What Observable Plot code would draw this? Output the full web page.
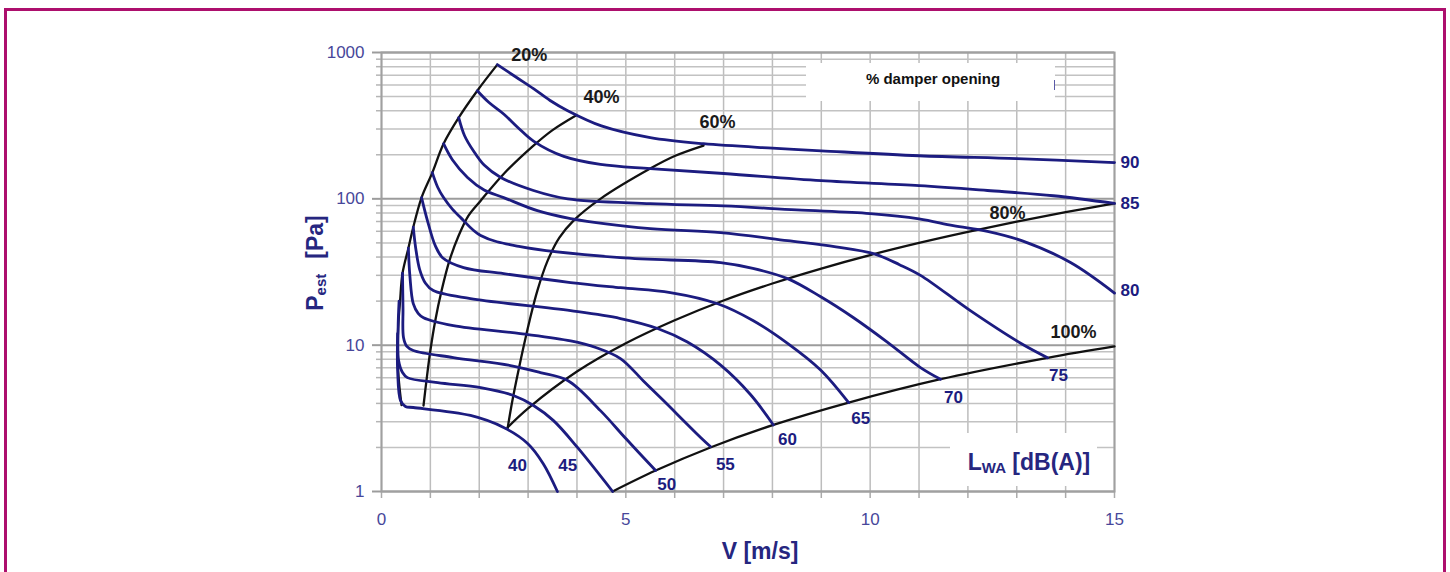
<!DOCTYPE html>
<html><head><meta charset="utf-8">
<script src="https://cdn.jsdelivr.net/npm/d3@7"></script>
<script src="https://cdn.jsdelivr.net/npm/@observablehq/plot@0.6"></script>
<style>
html,body{margin:0;padding:0;background:#fff;}
#wrap{position:relative;width:1450px;height:572px;overflow:hidden;font-family:"Liberation Sans",Arial,sans-serif;}
#chart{position:absolute;left:0;top:0;}
#border{position:absolute;left:4px;top:8px;width:1442px;height:700px;border:3px solid #ad0f6d;box-sizing:border-box;pointer-events:none;}
.ov{position:absolute;white-space:nowrap;}
#damperBox{left:806px;top:63px;width:249px;height:38px;background:#fff;}
#damperTxt{left:806px;top:70px;width:254px;text-align:center;font-weight:bold;font-size:15px;color:#111;line-height:18px;}
#damperTick{left:1054px;top:80px;width:1px;height:10px;background:#5a5aa8;}
#lwaBox{left:950px;top:433px;width:147px;height:53px;background:#fff;}
#lwaTxt{left:1029px;top:462px;transform:translate(-50%,-50%);font-weight:bold;font-size:23px;color:#26267f;}
#ytitle{left:315px;top:263px;transform:translate(-50%,-50%) rotate(-90deg);font-weight:bold;font-size:23px;color:#26267f;}
#xtitle{left:760px;top:551px;transform:translate(-50%,-50%);font-weight:bold;font-size:23px;color:#26267f;}
.sub{font-size:15px;vertical-align:-3px;}
</style>
</head><body>
<div id="wrap">
  <div id="chart"></div>
  <div class="ov" id="damperBox"></div>
  <div class="ov" id="damperTxt">% damper opening</div>
  <div class="ov" id="damperTick"></div>
  <div class="ov" id="lwaBox"></div>
  <div class="ov" id="lwaTxt">L<span class="sub">WA</span> [dB(A)]</div>
  <div class="ov" id="ytitle">P<span class="sub">est</span><span style="margin-left:15px">[Pa]</span></div>
  <div class="ov" id="xtitle">V [m/s]</div>
  <div id="border"></div>
</div>
<script>
// ---- tick values ----
const xTicks = [0, 5, 10, 15];
const xGrid = [0,1,2,3,4,5,6,7,8,9,10,11,12,13,14,15];
const yTicks = [1, 10, 100, 1000];
const yMinor = [2,3,4,5,6,7,8,9,20,30,40,50,60,70,80,90,200,300,400,500,600,700,800,900];

// ---- sound power level curves L_WA [dB(A)] : [V m/s, P Pa] ----
const blueLevels = [40, 45, 50, 55, 60, 65, 70, 75, 80, 85, 90];
const L40 = [[0.33,12],[0.33,6.7],[0.39,4.18],[0.49,3.81],[0.65,3.75],[1.82,3.31],[2.50,2.74],[2.99,2.13],[3.31,1.55],[3.60,1.0]];
const L45 = [[0.36,20],[0.34,13],[0.35,7.85],[0.43,6.5],[0.53,6.0],[1.15,5.55],[2.03,5.13],[2.70,4.53],[3.11,3.87],[3.52,3.05],[4.01,2.0],[4.73,1.0]];
const L50 = [[0.43,31],[0.44,18],[0.45,11.3],[0.52,9.8],[0.65,9.19],[1.47,8.23],[2.64,7.26],[3.25,6.5],[3.81,5.73],[4.48,3.57],[5.0,2.3],[5.61,1.39]];
const L55 = [[0.55,46],[0.58,30],[0.65,19.2],[0.75,16.5],[0.86,15.4],[1.47,13.6],[2.84,12.0],[3.87,10.7],[4.4,9.6],[4.89,8.1],[5.36,5.7],[5.77,4.18],[6.53,2.34],[6.73,2.03]];
const L60 = [[0.65,64],[0.70,46],[0.78,33],[0.9,26.5],[1.06,23.6],[1.82,20.8],[3.87,17.2],[4.89,15.2],[5.65,13.0],[6.26,10.5],[6.94,7.3],[7.55,4.6],[8.02,2.85]];
const L65 = [[0.82,102],[0.94,71],[1.10,47.9],[1.25,39.6],[1.68,33.9],[2.5,30.8],[3.87,26.8],[4.89,24.7],[5.91,22.9],[6.88,19.2],[7.61,14.7],[8.31,10.3],[8.98,6.8],[9.56,4.05]];
const L70 = [[1.04,151],[1.15,120],[1.27,102],[1.45,85],[1.62,74.4],[2.03,56.1],[2.84,47.1],[4.89,39.6],[6.94,36.7],[7.6,33.5],[8.31,28.5],[8.98,21.5],[9.66,15.4],[10.35,10.5],[11.03,7.03],[11.44,5.85]];
const L75 = [[1.27,238],[1.45,185],[1.76,140],[2.1,115],[2.5,102],[3.19,83],[3.87,73.3],[5.5,62.6],[6.94,58.8],[8.31,51.8],[9.3,47],[10.07,42.2],[10.6,35.5],[11.03,30],[12.05,17.2],[13.08,10.3],[13.63,8.2]];
const L80 = [[1.58,359],[1.7,270],[1.88,213],[2.1,170],[2.44,140],[3.11,114],[3.81,100],[5.5,92.8],[7.0,89.5],[8.5,84],[10,79.3],[11.0,73],[11.7,65.6],[12.4,60],[13.1,51.8],[14.1,36.7],[15,22.7]];
const L85 = [[1.96,548],[2.2,455],[2.5,380],[2.8,305],[3.11,248],[3.73,195],[4.48,172],[5.5,161],[7.0,149],[9.0,133],[11.0,123],[12.4,114],[13.75,105],[15,93]];
const L90 = [[2.37,826],[2.75,680],[3.11,566],[3.45,470],[3.81,400],[4.5,315],[5.5,262],[6.59,238],[8.0,222],[9.0,213],[11.0,197],[13.0,188],[15,177]];

// ---- damper opening curves ----
const damperLabels = ["20%", "40%", "60%", "80%", "100%"];
const D20 = [[0.41,3.9],[0.36,5.5],[0.33,8],[0.34,13],[0.38,20],[0.43,31],[0.55,46],[0.65,64],[0.82,102],[1.04,151],[1.27,238],[1.58,359],[1.96,548],[2.37,826]];
const D40 = [[0.86,3.87],[0.92,5.73],[1.0,9.19],[1.1,14.7],[1.23,23.6],[1.39,37.8],[1.58,56.1],[1.78,76.8],[2.03,97.2],[2.5,148],[3.11,231],[3.5,295],[3.97,370]];
const D60 = [[2.58,2.69],[2.66,3.87],[2.76,5.73],[2.89,9.19],[3.03,14.7],[3.19,23.6],[3.4,37.8],[3.64,54.3],[3.93,71],[4.48,100],[5.5,161],[6.0,196],[6.59,231]];
const D80 = [[2.58,2.74],[3,3.7],[4,6.6],[5,10.3],[6,14.8],[7,20.2],[8,26.4],[9,33.4],[10,41.3],[11,50],[12,59.5],[13,69.8],[14,81],[15,93]];
const D100 = [[4.73,1.0],[5.61,1.39],[6.73,2.0],[8.02,2.85],[9.56,4.05],[11.44,5.85],[13.63,8.2],[15,9.8]];

// ---- build tables ----
const bluePts = [L40, L45, L50, L55, L60, L65, L70, L75, L80, L85, L90];
const blackPts = [D20, D40, D60, D80, D100];
const blueRows = blueLevels.flatMap((lv, i) => bluePts[i].map(([x, y]) => ({lv, x, y})));
const blackRows = damperLabels.flatMap((d, i) => blackPts[i].map(([x, y]) => ({d, x, y})));

const navy = "#1c1c80";
const tickCol = "#47479a";
const font = "Liberation Sans, Arial, sans-serif";
const last = a => a[a.length - 1];

function lwaLabel(i, dx, dy, anchor = "middle") {
  const p = last(bluePts[i]);
  return Plot.text([{x: p[0], y: p[1], t: String(blueLevels[i])}],
    {x: "x", y: "y", text: "t", dx, dy, textAnchor: anchor, fill: navy, fontWeight: "bold", fontSize: 17});
}
function pctLabel(i, dx, dy) {
  const p = last(blackPts[i]);
  return Plot.text([{x: p[0], y: p[1], t: damperLabels[i]}],
    {x: "x", y: "y", text: "t", dx, dy, textAnchor: "middle", fill: "#1a1a1a", fontWeight: "bold", fontSize: 18});
}

const chart = Plot.plot({
  width: 1450, height: 572,
  marginLeft: 381, marginRight: 336, marginTop: 52, marginBottom: 81,
  style: {fontFamily: font, background: "white"},
  x: {domain: [0, 15]},
  y: {type: "log", domain: [1, 1000]},
  marks: [
    Plot.gridX(xGrid, {stroke: "#bdbdbd", strokeOpacity: 1, strokeWidth: 1.5}),
    Plot.gridY(yMinor, {stroke: "#c2c2c2", strokeOpacity: 1, strokeWidth: 1.5}),
    Plot.gridY(yTicks, {stroke: "#9c9c9c", strokeOpacity: 1, strokeWidth: 2}),
    Plot.axisX(xGrid, {tickSize: 7, color: "#aaaaaa", strokeWidth: 1.5, tickFormat: () => "", label: null}),
    Plot.axisX(xTicks, {tickSize: 0, tickPadding: 21, color: tickCol, fontSize: 17, tickFormat: d => String(d), label: null}),
    Plot.axisY(yMinor, {tickSize: 5, color: "#b5b5b5", strokeWidth: 1.5, tickFormat: () => "", label: null}),
    Plot.axisY(yTicks, {tickSize: 9, color: "#9c9c9c", strokeWidth: 2, tickFormat: () => "", label: null}),
    Plot.axisY(yTicks, {tickSize: 0, tickPadding: 17, color: tickCol, fontSize: 17, tickFormat: d => String(d), label: null}),
    Plot.frame({stroke: "#a0a0a0", strokeWidth: 2}),
    Plot.line(blackRows, {x: "x", y: "y", z: "d", stroke: "#111", strokeWidth: 2.3, curve: "catmull-rom"}),
    Plot.line(blueRows, {x: "x", y: "y", z: "lv", stroke: navy, strokeWidth: 2.8, curve: "catmull-rom"}),
    lwaLabel(10, 6, 0, "start"),
    lwaLabel(9, 6, 0, "start"),
    lwaLabel(8, 6, -3, "start"),
    lwaLabel(7, 11, 18),
    lwaLabel(6, 13, 18),
    lwaLabel(5, 12, 16),
    lwaLabel(4, 14, 15),
    lwaLabel(3, 15, 18),
    lwaLabel(2, 11, 14),
    lwaLabel(1, -45, -26),
    lwaLabel(0, -40, -26),
    pctLabel(0, 32, -9),
    pctLabel(1, 26, -18),
    pctLabel(2, 14, -23),
    pctLabel(3, -107, 10),
    pctLabel(4, -41, -14)
  ]
});
document.getElementById("chart").appendChild(chart);
</script>
</body></html>
